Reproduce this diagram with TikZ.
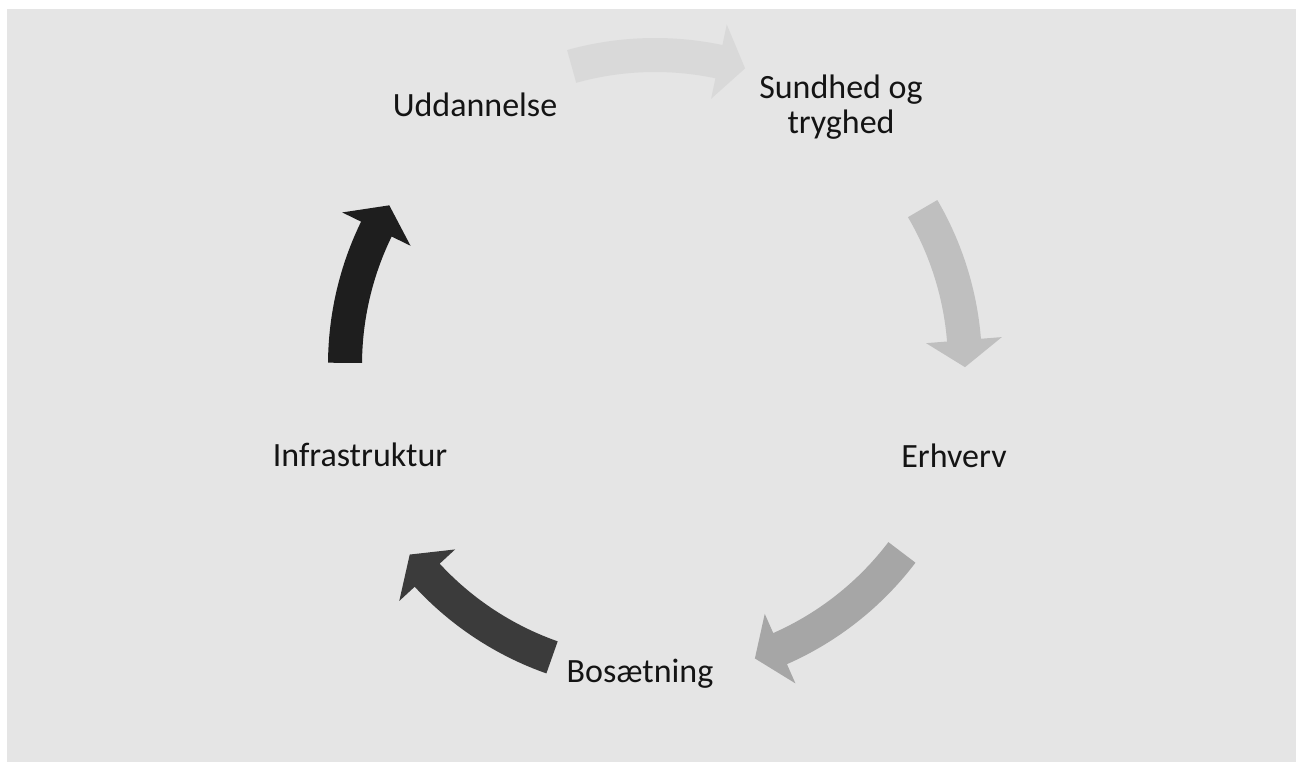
\documentclass[tikz,border=0pt]{standalone}
\usepackage{fontspec}
\setmainfont{Carlito}
\usepackage{tikz}
\definecolor{fond}{HTML}{E5E5E5}
\definecolor{flecheA}{HTML}{D9D9D9}
\definecolor{flecheB}{HTML}{BFBFBF}
\definecolor{flecheC}{HTML}{A6A6A6}
\definecolor{flecheD}{HTML}{3B3B3B}
\definecolor{flecheE}{HTML}{1E1E1E}
\definecolor{texte}{HTML}{141414}

\begin{document}
\begin{tikzpicture}[x=1pt,y=1pt,
    etiquette/.style={font=\fontsize{34}{35}\selectfont,text=texte,inner sep=0pt,anchor=base}]
\useasboundingbox (0,0) rectangle (1296,762);
\fill[white] (0,0) rectangle (1296,762);
\fill[fond] (7,0) rectangle (1296,753);
% fleches circulaires : angle de queue / angle de pointe / couleur
\foreach \a/\b/\c in {105.6/73.1/flecheA, 30.3/-0.4/flecheB, -37.2/-71.2/flecheC,
                      -109.4/-142.3/flecheD, 179.6/149/flecheE}
    \fill[\c,shift={(655,397)}](\a:327)arc[start angle=\a,end angle=\b+5,radius=327]
        --(\b+5:348)--(\b:310)--(\b+5:272)--(\b+5:293)
        arc[start angle=\b+5,end angle=\a,radius=293]--cycle;
\node[etiquette] (uddannelse) at (475,645) {Uddannelse};
\node[etiquette,align=center] (sundhed) at (841,628) {Sundhed og\\tryghed};
\node[etiquette] (erhverv) at (954,294) {Erhverv};
\node[etiquette] (bosaetning) at (640,79) {Bosætning};
\node[etiquette] (infra) at (360,295) {Infrastruktur};
\end{tikzpicture}
\end{document}
